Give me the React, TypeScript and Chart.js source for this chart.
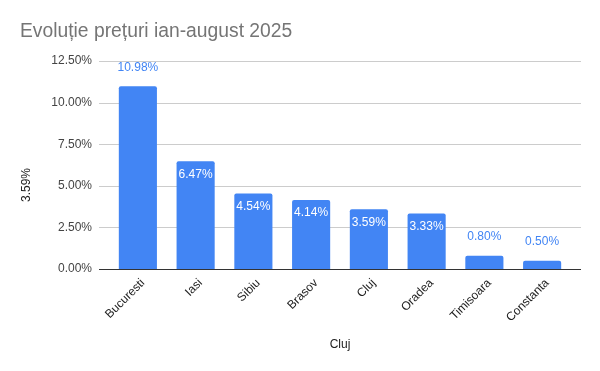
import React, { useEffect, useRef } from 'react';
import { Chart, registerables } from 'chart.js';

Chart.register(...registerables);

const categories = ['Bucuresti', 'Iasi', 'Sibiu', 'Brasov', 'Cluj', 'Oradea', 'Timisoara', 'Constanta'];
const values = [10.98, 6.47, 4.54, 4.14, 3.59, 3.33, 0.8, 0.5];
const labelInside = [false, true, true, true, true, true, false, false];
const yTicks = [0, 2.5, 5, 7.5, 10, 12.5];
const chartTitle = 'Evoluție prețuri ian-august 2025';
const yTitle = '3.59%';
const xTitle = 'Cluj';

const FONT = '"Liberation Sans", Arial, sans-serif';
const BLUE = '#4285F4';

const decorPlugin = {
  id: 'decor',
  beforeDatasetsDraw(chart: any) {
    const { ctx, chartArea } = chart;
    const y = chart.scales.y;
    ctx.save();
    ctx.strokeStyle = '#cccccc';
    ctx.lineWidth = 1;
    yTicks.forEach((v) => {
      if (v === 0) return;
      const py = Math.round(y.getPixelForValue(v)) + 0.5;
      ctx.beginPath();
      ctx.moveTo(chartArea.left - 10, py);
      ctx.lineTo(chartArea.right + 10, py);
      ctx.stroke();
    });
    ctx.restore();
  },
  afterDatasetsDraw(chart: any) {
    const { ctx, chartArea } = chart;
    const y = chart.scales.y;
    ctx.save();
    ctx.strokeStyle = '#333333';
    ctx.lineWidth = 1;
    const by = Math.round(y.getPixelForValue(0)) + 0.5;
    ctx.beginPath();
    ctx.moveTo(chartArea.left - 10, by);
    ctx.lineTo(chartArea.right + 10, by);
    ctx.stroke();

    const meta = chart.getDatasetMeta(0);
    ctx.font = `12px ${FONT}`;
    ctx.textAlign = 'center';
    ctx.textBaseline = 'middle';
    meta.data.forEach((bar: any, i: number) => {
      const txt = values[i].toFixed(2) + '%';
      if (labelInside[i]) {
        ctx.fillStyle = '#ffffff';
        ctx.fillText(txt, bar.x, bar.y + 13);
      } else {
        ctx.fillStyle = BLUE;
        ctx.fillText(txt, bar.x, bar.y - 19);
      }
    });

    ctx.fillStyle = '#757575';
    ctx.font = `19.3px ${FONT}`;
    ctx.textAlign = 'left';
    ctx.textBaseline = 'alphabetic';
    ctx.fillText(chartTitle, 20, 37);

    ctx.fillStyle = '#222222';
    ctx.font = `12px ${FONT}`;
    ctx.save();
    ctx.translate(26.5, 185);
    ctx.rotate(-Math.PI / 2);
    ctx.textAlign = 'center';
    ctx.textBaseline = 'middle';
    ctx.fillText(yTitle, 0, 0);
    ctx.restore();

    ctx.textAlign = 'center';
    ctx.textBaseline = 'middle';
    ctx.fillText(xTitle, (chartArea.left + chartArea.right) / 2, 345);
    ctx.restore();
  },
};

export default function App() {
  const ref = useRef<HTMLCanvasElement | null>(null);
  useEffect(() => {
    document.body.style.margin = '0';
    if (!ref.current) return;
    const chart = new Chart(ref.current, {
      type: 'bar',
      data: {
        labels: categories,
        datasets: [
          {
            data: values,
            backgroundColor: BLUE,
            borderRadius: 2,
            categoryPercentage: 1,
            barPercentage: 0.66,
          },
        ],
      },
      options: {
        animation: false,
        responsive: false,
        maintainAspectRatio: false,
        layout: { padding: { top: 61, right: 29, left: 0, bottom: 0 } },
        plugins: {
          legend: { display: false },
          title: { display: false },
          tooltip: { enabled: false },
        },
        scales: {
          x: {
            grid: { display: false, drawTicks: false },
            border: { display: false },
            ticks: {
              minRotation: 45,
              maxRotation: 45,
              autoSkip: false,
              padding: 7,
              labelOffset: 5,
              color: '#222222',
              font: { family: FONT, size: 12 },
            },
            afterFit: (s: any) => {
              s.height = 102;
            },
          },
          y: {
            min: 0,
            max: 12.5,
            grid: { display: false, drawTicks: false },
            border: { display: false },
            afterBuildTicks: (s: any) => {
              s.ticks = yTicks.map((v) => ({ value: v }));
            },
            ticks: {
              padding: 17,
              color: '#444444',
              font: { family: FONT, size: 12 },
              callback: (v: any) => Number(v).toFixed(2) + '%',
            },
            afterFit: (s: any) => {
              s.width = 109;
            },
          },
        },
      },
      plugins: [decorPlugin],
    });
    return () => chart.destroy();
  }, []);
  return (
    <div style={{ position: 'relative', width: 600, height: 371 }}>
      <canvas ref={ref} width={600} height={371} style={{ width: 600, height: 371, display: 'block' }} />
    </div>
  );
}
